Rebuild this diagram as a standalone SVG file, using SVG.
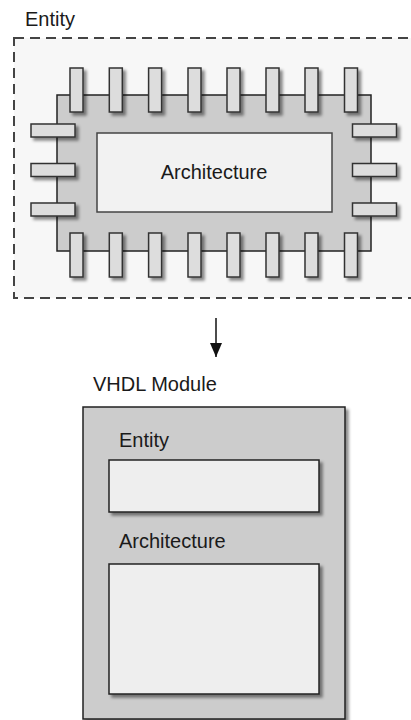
<svg xmlns="http://www.w3.org/2000/svg" width="411" height="720" viewBox="0 0 411 720">
  <defs>
    <filter id="shadow" x="-20%" y="-20%" width="150%" height="150%">
      <feDropShadow dx="3" dy="3" stdDeviation="1.6" flood-color="#000" flood-opacity="0.45"/>
    </filter>
    <marker id="arrow" viewBox="0 0 14 12" refX="14" refY="6" markerWidth="14" markerHeight="12" markerUnits="userSpaceOnUse" orient="auto">
      <path d="M0,0 L14,6 L0,12 Z" fill="#111"/>
    </marker>
    <!-- pin shapes for the entity's ports -->
    <rect id="vpin" width="13" height="44" class="pin"/>
    <rect id="hpin" width="44" height="13" class="pin"/>
  </defs>
  <style>
    text { font-family: "Liberation Sans", Arial, sans-serif; font-size: 20px; fill: #1a1a1a; }
    .pin { fill: #dddddd; stroke: #333; stroke-width: 1.5; }
    .pins { filter: url(#shadow); }
    .body { fill: #cccccc; stroke: #222; stroke-width: 1.5; }
    .inner { fill: #eeeeee; stroke: #222; stroke-width: 1.5; }
  </style>

  <!-- Entity: dashed boundary with chip -->
  <g id="entity">
    <text x="25" y="26">Entity</text>
    <rect x="14" y="38" width="400" height="260" fill="#f7f7f7" stroke="#444" stroke-width="2" stroke-dasharray="10,6"/>
    <rect x="57" y="95" width="314" height="156" class="body"/>
    <rect id="entity-architecture" x="97" y="133" width="235" height="79" fill="#f2f2f2" stroke="#444" stroke-width="1.5"/>
    <text x="214" y="179" text-anchor="middle">Architecture</text>
    <g class="pins">
      <use href="#vpin" x="70" y="68"/>
      <use href="#vpin" x="109.3" y="68"/>
      <use href="#vpin" x="148.6" y="68"/>
      <use href="#vpin" x="188" y="68"/>
      <use href="#vpin" x="227" y="68"/>
      <use href="#vpin" x="266" y="68"/>
      <use href="#vpin" x="305" y="68"/>
      <use href="#vpin" x="344.5" y="68"/>
      <use href="#vpin" x="70" y="233"/>
      <use href="#vpin" x="109.3" y="233"/>
      <use href="#vpin" x="148.6" y="233"/>
      <use href="#vpin" x="188" y="233"/>
      <use href="#vpin" x="227" y="233"/>
      <use href="#vpin" x="266" y="233"/>
      <use href="#vpin" x="305" y="233"/>
      <use href="#vpin" x="344.5" y="233"/>
      <use href="#hpin" x="31" y="124"/>
      <use href="#hpin" x="31" y="163.5"/>
      <use href="#hpin" x="31" y="203"/>
      <use href="#hpin" x="352.5" y="124"/>
      <use href="#hpin" x="352.5" y="163.5"/>
      <use href="#hpin" x="352.5" y="203"/>
    </g>
  </g>

  <!-- Connectors -->
  <g id="connectors">
    <line x1="216" y1="318" x2="216" y2="357" stroke="#111" stroke-width="1.5" marker-end="url(#arrow)"/>
  </g>

  <!-- VHDL module composed of entity and architecture -->
  <g id="vhdl-module">
    <text x="93" y="391">VHDL Module</text>
    <rect x="83" y="407" width="262" height="312" class="body" filter="url(#shadow)"/>
    <text x="119" y="447">Entity</text>
    <rect x="109" y="460" width="210" height="52" class="inner" filter="url(#shadow)"/>
    <text x="119" y="548">Architecture</text>
    <rect x="109" y="564" width="210" height="130" class="inner" filter="url(#shadow)"/>
  </g>
</svg>
